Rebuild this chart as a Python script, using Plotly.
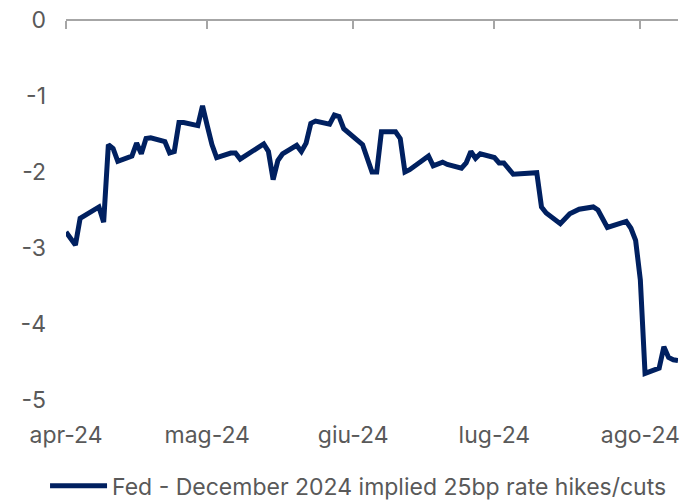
import plotly.graph_objects as go

dates = [
    "2024-04-01", "2024-04-03", "2024-04-04", "2024-04-08", "2024-04-09", "2024-04-10",
    "2024-04-11", "2024-04-12", "2024-04-15", "2024-04-16", "2024-04-17", "2024-04-18",
    "2024-04-19", "2024-04-22", "2024-04-23", "2024-04-24", "2024-04-25", "2024-04-26",
    "2024-04-29", "2024-04-30", "2024-05-01", "2024-05-02", "2024-05-03", "2024-05-06",
    "2024-05-07", "2024-05-08", "2024-05-13", "2024-05-14", "2024-05-15", "2024-05-16",
    "2024-05-17", "2024-05-20", "2024-05-21", "2024-05-22", "2024-05-23", "2024-05-24",
    "2024-05-27", "2024-05-28", "2024-05-29", "2024-05-30", "2024-06-03", "2024-06-04",
    "2024-06-05", "2024-06-06", "2024-06-07", "2024-06-10", "2024-06-11", "2024-06-12",
    "2024-06-13", "2024-06-17", "2024-06-18", "2024-06-20", "2024-06-21", "2024-06-24",
    "2024-06-25", "2024-06-26", "2024-06-27", "2024-06-28", "2024-07-01", "2024-07-02",
    "2024-07-03", "2024-07-05", "2024-07-08", "2024-07-10", "2024-07-11", "2024-07-12",
    "2024-07-15", "2024-07-17", "2024-07-19", "2024-07-22", "2024-07-23", "2024-07-24",
    "2024-07-25", "2024-07-29", "2024-07-30", "2024-07-31", "2024-08-01", "2024-08-02",
    "2024-08-05", "2024-08-06", "2024-08-07", "2024-08-08", "2024-08-09",
]
values = [
    -2.79, -2.96, -2.61, -2.46, -2.66, -1.64,
    -1.69, -1.86, -1.79, -1.62, -1.76, -1.56,
    -1.55, -1.60, -1.75, -1.73, -1.35, -1.35,
    -1.39, -1.13, -1.39, -1.64, -1.81, -1.75,
    -1.75, -1.83, -1.63, -1.73, -2.10, -1.85,
    -1.76, -1.65, -1.73, -1.62, -1.36, -1.33,
    -1.37, -1.25, -1.27, -1.43, -1.64, -1.82,
    -2.00, -2.00, -1.47, -1.47, -1.56, -2.00,
    -1.97, -1.79, -1.92, -1.87, -1.90, -1.95,
    -1.88, -1.73, -1.82, -1.76, -1.81, -1.88,
    -1.88, -2.03, -2.02, -2.01, -2.46, -2.54,
    -2.68, -2.55, -2.49, -2.46, -2.50, -2.63,
    -2.73, -2.65, -2.74, -2.90, -3.42, -4.65,
    -4.58, -4.30, -4.44, -4.47, -4.48,
]
series_name = "Fed - December 2024 implied 25bp rate hikes/cuts"

month_ticks = ["2024-04-01", "2024-05-01", "2024-06-01", "2024-07-01", "2024-08-01"]
month_labels = ["apr-24", "mag-24", "giu-24", "lug-24", "ago-24"]
y_ticks = [0, -1, -2, -3, -4, -5]
y_labels = ["0", "-1", "-2", "-3", "-4", "-5"]
x_range = ["2024-04-01", "2024-08-09"]

FONT = "Inter"
TXT = "#595959"

fig = go.Figure()
fig.add_trace(go.Scatter(
    x=dates, y=values, mode="lines", name=series_name,
    line=dict(color="#002060", width=5),
))

fig.update_layout(
    width=697, height=500,
    margin=dict(l=66, r=19, t=20, b=100, autoexpand=False),
    paper_bgcolor="white", plot_bgcolor="white",
    font=dict(family=FONT, size=23, color=TXT),
    showlegend=True,
    legend=dict(orientation="h", x=0.478, xanchor="center", y=-0.226, yanchor="middle",
                itemwidth=57, font=dict(size=23, color=TXT)),
    xaxis=dict(
        type="date", range=x_range, tickvals=month_ticks, ticktext=month_labels,
        anchor="free", position=1, side="bottom", automargin=False,
        showline=True, linecolor="#a6a6a6", linewidth=2,
        ticks="outside", ticklen=8, tickcolor="#a6a6a6", tickwidth=2,
        showgrid=False, zeroline=False,
        ticklabelstandoff=386,
    ),
    yaxis=dict(
        range=[-5, 0], tickvals=y_ticks, ticktext=y_labels, automargin=False,
        showline=False, showgrid=False, zeroline=False, ticks="",
        ticklabelstandoff=19,
    ),
)

fig.write_html("out.html", config={"displayModeBar": False},
               post_script="document.body.style.margin='0';")
